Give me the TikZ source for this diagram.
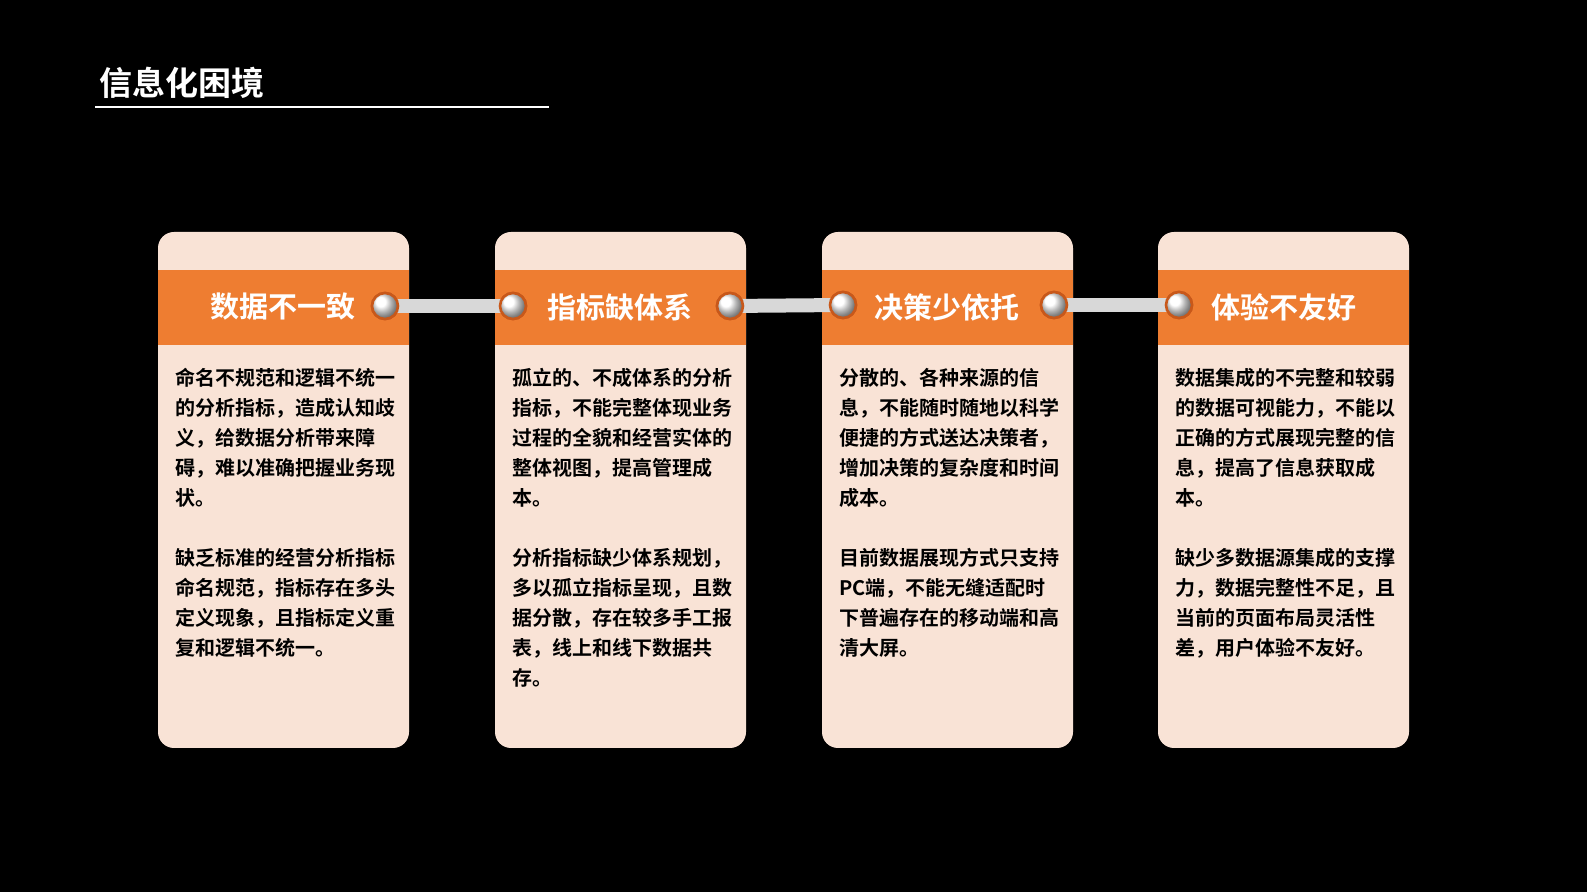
\documentclass[tikz,border=0pt]{standalone}
\usepackage{fontspec}
\setmainfont{Noto Sans CJK SC Bold}
\begin{document}
\begin{tikzpicture}[x=0.5pt,y=-0.5pt,
  card/.style={fill=cardfill,rounded corners=8pt},
  band/.style={fill=orangeband},
  head/.style={text=white,font=\fontsize{14.5}{16}\selectfont},
  body/.style={anchor=north west,inner sep=0pt,align=left,text=black,font=\fontsize{10}{15}\selectfont},
  ring/.style={circle,minimum size=13pt,inner sep=0pt,fill=white,draw=ringorange,line width=1.3pt,shading=ball,ball color=white},
  bar/.style={line width=7pt,draw=barg}]
\definecolor{cardfill}{HTML}{F9E3D6}
\definecolor{orangeband}{HTML}{EE7D31}
\definecolor{ringorange}{HTML}{C8581A}
\definecolor{barg}{HTML}{D8D8D8}
\fill[black] (0,0) rectangle (1587,892);
\useasboundingbox (0,0) rectangle (1587,892);
\node[anchor=west,text=white,font=\fontsize{16.5}{18}\selectfont,inner sep=0pt] (title) at (99,83) {信息化困境};
\draw[white,line width=0.6pt] (95,107) coordinate (ul1) -- (549,107) coordinate (ul2);
\foreach \x/\n in {158/a,495/b,822/c,1158/d}{
  \fill[card] (\x,232) rectangle ++(251,516);
  \fill[band] (\x,270) rectangle ++(251,75);
}
\node[head] (ha) at (283,307) {数据不一致};
\node[head] (hb) at (620,307) {指标缺体系};
\node[head] (hc) at (947,307) {决策少依托};
\node[head] (hd) at (1284,307) {体验不友好};
\node[ring] (r1) at (385,306) {};
\node[ring] (r2) at (513,306) {};
\node[ring] (r3) at (730,306) {};
\node[ring] (r4) at (843,305) {};
\node[ring] (r5) at (1054,305) {};
\node[ring] (r6) at (1179,305) {};
\draw[bar] (r1.center) -- (r2.center);
\draw[bar] (r3.center) -- (r4.center);
\draw[bar] (r5.center) -- (r6.center);
\node[ring] at (r1) {};\node[ring] at (r2) {};\node[ring] at (r3) {};
\node[ring] at (r4) {};\node[ring] at (r5) {};\node[ring] at (r6) {};
\node[body] (ta) at (175,368) {命名不规范和逻辑不统一\\的分析指标，造成认知歧\\义，给数据分析带来障\\碍，难以准确把握业务现\\状。\\[15pt]缺乏标准的经营分析指标\\命名规范，指标存在多头\\定义现象，且指标定义重\\复和逻辑不统一。};
\node[body] (tb) at (512,368) {孤立的、不成体系的分析\\指标，不能完整体现业务\\过程的全貌和经营实体的\\整体视图，提高管理成\\本。\\[15pt]分析指标缺少体系规划，\\多以孤立指标呈现，且数\\据分散，存在较多手工报\\表，线上和线下数据共\\存。};
\node[body] (tc) at (839,368) {分散的、各种来源的信\\息，不能随时随地以科学\\便捷的方式送达决策者，\\增加决策的复杂度和时间\\成本。\\[15pt]目前数据展现方式只支持\\PC端，不能无缝适配时\\下普遍存在的移动端和高\\清大屏。};
\node[body] (td) at (1175,368) {数据集成的不完整和较弱\\的数据可视能力，不能以\\正确的方式展现完整的信\\息，提高了信息获取成\\本。\\[15pt]缺少多数据源集成的支撑\\力，数据完整性不足，且\\当前的页面布局灵活性\\差，用户体验不友好。};
\end{tikzpicture}
\end{document}
